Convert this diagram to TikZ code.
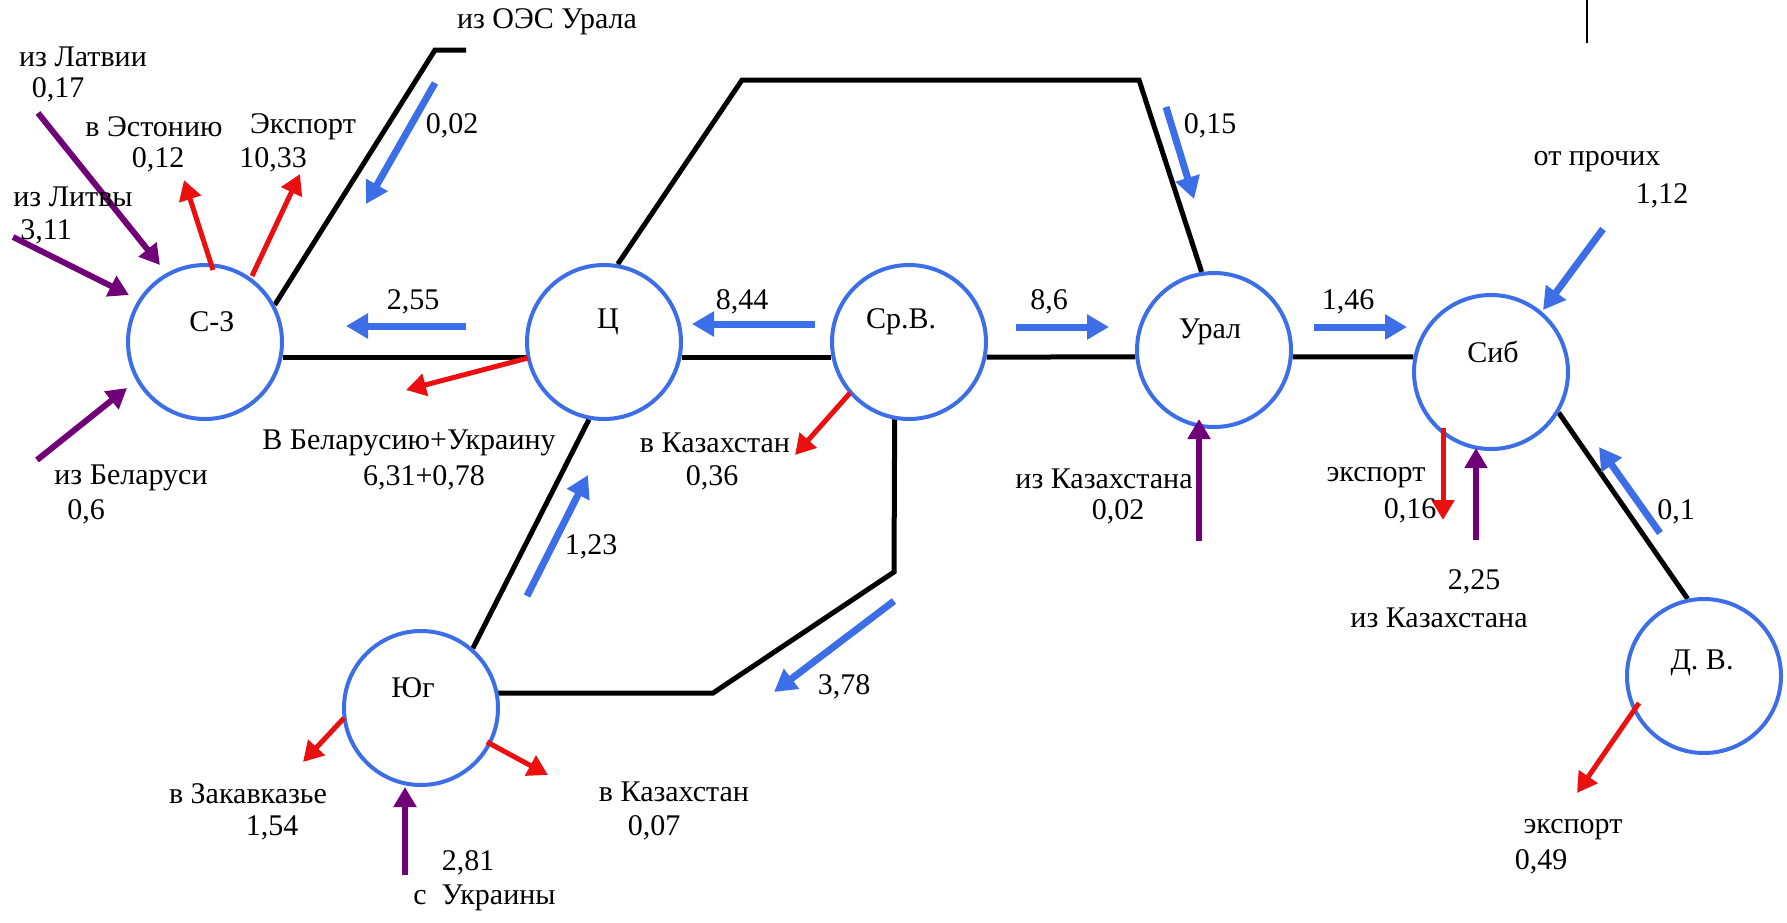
\documentclass[tikz,border=0pt]{standalone}
\usepackage{fontspec}
\IfFontExistsTF{LiberationSerif-Regular.ttf}
  {\newfontfamily\diagfont{LiberationSerif-Regular.ttf}}
  {\IfFontExistsTF{Liberation Serif}{\newfontfamily\diagfont{Liberation Serif}}{\newfontfamily\diagfont{DejaVu Serif}}}
\usetikzlibrary{arrows.meta,backgrounds}
\definecolor{flowblue}{RGB}{60,110,232}
\definecolor{flowred}{RGB}{235,15,15}
\definecolor{flowpurple}{RGB}{112,0,120}
\tikzset{
  region/.style={circle,draw=flowblue,line width=2pt,fill=white,minimum size=77pt,inner sep=0pt},
  link/.style={draw=black,line width=2.5pt},
  bluearr/.style={draw=flowblue,line width=3.5pt,-{Triangle[length=11pt,width=12pt]}},
  redarr/.style={draw=flowred,line width=2.5pt,-{Triangle[length=10pt,width=11pt]}},
  purparr/.style={draw=flowpurple,line width=3pt,-{Triangle[length=10pt,width=11pt]}},
  txt/.style={font=\diagfont\fontsize{15}{17}\selectfont,inner sep=0pt,text=black},
}
\begin{document}
\begin{tikzpicture}[x=0.5pt,y=-0.5pt]
\useasboundingbox (0,0) rectangle (1787,922);
% regions
\node[region] (sz) at (205,342) {};
\node[region] (c) at (604,342) {};
\node[region] (srv) at (909,342) {};
\node[region] (ural) at (1214,350) {};
\node[region] (sib) at (1491,372) {};
\node[region] (yug) at (421,708) {};
\node[region] (dv) at (1704,676) {};
% region names
\node[txt] (szn) at (212,322) {С-З};
\node[txt] (cn) at (608,322) {Ц};
\node[txt] (srvn) at (901,322) {Ср.В.};
\node[txt] (uraln) at (1210,332) {Урал};
\node[txt] (sibn) at (1493,352) {Сиб};
\node[txt] (yugn) at (413,688) {Юг};
\node[txt] (dvn) at (1702,663) {Д. В.};
% connection lines
\coordinate (oes1) at (466,50);
\coordinate (oes2) at (435,50);
\coordinate (t1) at (742,80);
\coordinate (t2) at (1139,80);
\coordinate (k1) at (894,572);
\coordinate (k2) at (713,693);
\begin{scope}[on background layer]
\draw[link] (sz.-11) -- (c.191);
\draw[link] (c.-11) -- (srv.191);
\draw[link] (srv.-11) -- (ural.185);
\draw[link] (ural.-5) -- (sib.169);
\draw[link] (oes1) -- (oes2) -- (sz.28);
\draw[link] (c.80) -- (t1) -- (t2) -- (ural.99);
\draw[link] (c.259) -- (yug.49);
\draw[link] ([xshift=-7pt]srv.center) -- (k1) -- (k2) -- ([yshift=7.5pt]yug.center);
\draw[link] (sib.-31) -- (dv.102);
\end{scope}
\draw[line width=1pt] (1587,0) -- (1587,43);
% blue flows
\draw[bluearr] (435,83) -- (366,204);
\draw[bluearr] (466,326) -- (346,326);
\draw[bluearr] (815,324) -- (692,324);
\draw[bluearr] (1016,327) -- (1109,327);
\draw[bluearr] (1166,107) -- (1194,199);
\draw[bluearr] (1314,327) -- (1407,327);
\draw[bluearr] (1603,229) -- (1543,310);
\draw[bluearr] (1660,533) -- (1599,447);
\draw[bluearr] (527,596) -- (588,475);
\draw[bluearr] (894,601) -- (774,692);
% purple imports
\draw[purparr] (38,113) -- (160,265);
\draw[purparr] (13,237) -- (129,295);
\draw[purparr] (37,460) -- (127,388);
\draw[purparr] (1199,541) -- (1199,419);
\draw[purparr] (1476,540) -- (1476,448);
\draw[purparr] (405,875) -- (405,787);
% red exports
\draw[redarr] (213,270) -- (184,180);
\draw[redarr] (252,276) -- (300,174);
\draw[redarr] (528,358) -- (406,390);
\draw[redarr] (850,393) -- (795,455);
\draw[redarr] (1443,428) -- (1443,520);
\draw[redarr] (1639,703) -- (1577,793);
\draw[redarr] (344,718) -- (303,762);
\draw[redarr] (487,742) -- (548,775);
% texts
\node[txt] at (547,22) {из ОЭС Урала};
\node[txt] at (83,57) {из Латвии};
\node[txt] at (58,90) {0,17};
\node[txt] at (154,127) {в Эстонию};
\node[txt] at (158,160) {0,12};
\node[txt] at (303,127) {Экспорт};
\node[txt] at (273,160) {10,33};
\node[txt] at (452,126) {0,02};
\node[txt,anchor=west] at (13,197) {из Литвы};
\node[txt,anchor=west] at (20,232) {3,11};
\node[txt] at (413,302) {2,55};
\node[txt] at (742,302) {8,44};
\node[txt] at (1049,302) {8,6};
\node[txt] at (1210,126) {0,15};
\node[txt] at (1348,302) {1,46};
\node[txt] at (1597,162) {от прочих};
\node[txt] at (1662,196) {1,12};
\node[txt] at (409,443) {В Беларусию+Украину};
\node[txt] at (424,478) {6,31+0,78};
\node[txt] at (131,478) {из Беларуси};
\node[txt] at (86,512) {0,6};
\node[txt] at (715,443) {в Казахстан};
\node[txt] at (712,478) {0,36};
\node[txt] at (591,547) {1,23};
\node[txt] at (1104,479) {из Казахстана};
\node[txt] at (1118,512) {0,02};
\node[txt] at (1376,478) {экспорт};
\node[txt] at (1410,511) {0,16};
\node[txt] at (1676,512) {0,1};
\node[txt] at (1474,582) {2,25};
\node[txt] at (1439,618) {из Казахстана};
\node[txt] at (844,687) {3,78};
\node[txt] at (248,794) {в Закавказье};
\node[txt] at (272,828) {1,54};
\node[txt] at (674,792) {в Казахстан};
\node[txt] at (654,828) {0,07};
\node[txt] at (468,863) {2,81};
\node[txt,anchor=west] at (413,898) {с\ \ Украины};
\node[txt] at (1573,830) {экспорт};
\node[txt] at (1541,862) {0,49};
\end{tikzpicture}
\end{document}
